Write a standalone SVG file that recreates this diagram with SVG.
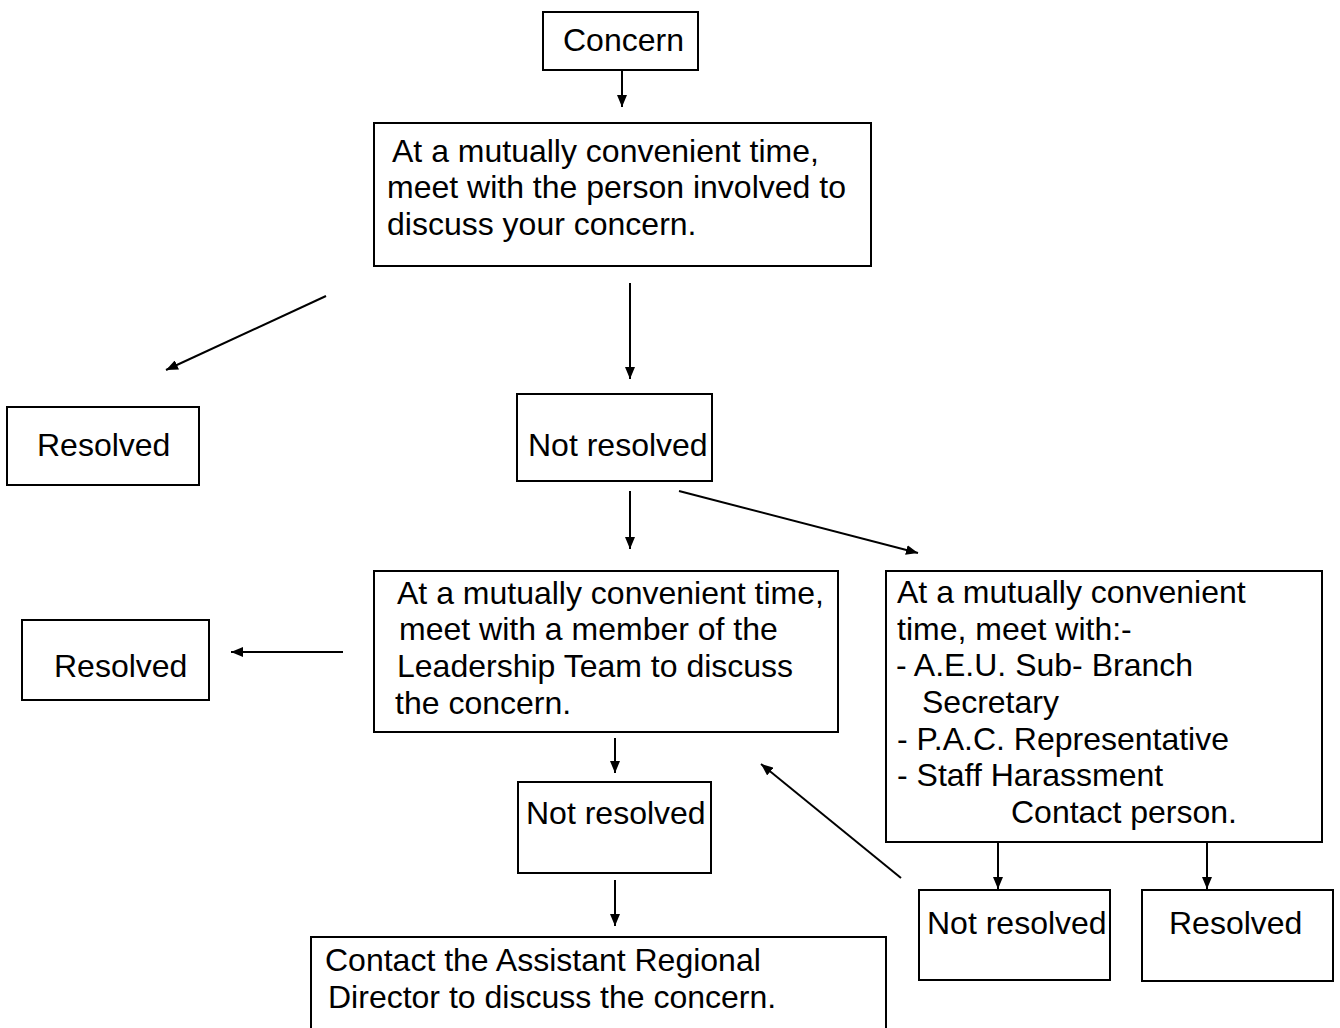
<svg xmlns="http://www.w3.org/2000/svg" width="1340" height="1028" viewBox="0 0 1340 1028">
<style>
  .box { fill: #ffffff; stroke: #000000; stroke-width: 2; }
  .t { font-family: "Liberation Sans", Arial, sans-serif; font-size: 32px; fill: #000000; }
  .c { stroke: #000000; stroke-width: 2; fill: none; marker-end: url(#ah); }
</style>
<defs>
  <marker id="ah" viewBox="0 0 12 10" refX="12" refY="5" markerWidth="12" markerHeight="10" markerUnits="userSpaceOnUse" orient="auto">
    <path d="M0,0 L12,5 L0,10 Z" fill="#000000"/>
  </marker>
</defs>
<rect width="1340" height="1028" fill="#ffffff"/>

<g id="concern">
  <rect class="box" x="543" y="12" width="155" height="58"/>
  <text class="t" x="563" y="51">Concern</text>
</g>
<g id="meet-person">
  <rect class="box" x="374" y="123" width="497" height="143"/>
  <text class="t" x="392" y="162">At a mutually convenient time,</text>
  <text class="t" x="387" y="198">meet with the person involved to</text>
  <text class="t" x="387" y="235">discuss your concern.</text>
</g>
<g id="resolved-1">
  <rect class="box" x="7" y="407" width="192" height="78"/>
  <text class="t" x="37" y="456">Resolved</text>
</g>
<g id="not-resolved-1">
  <rect class="box" x="517" y="394" width="195" height="87"/>
  <text class="t" x="528" y="456">Not resolved</text>
</g>
<g id="leadership">
  <rect class="box" x="374" y="571" width="464" height="161"/>
  <text class="t" x="397" y="604">At a mutually convenient time,</text>
  <text class="t" x="399" y="640">meet with a member of the</text>
  <text class="t" x="397" y="677">Leadership Team to discuss</text>
  <text class="t" x="395" y="714">the concern.</text>
</g>
<g id="resolved-2">
  <rect class="box" x="22" y="620" width="187" height="80"/>
  <text class="t" x="54" y="677">Resolved</text>
</g>
<g id="meet-with">
  <rect class="box" x="886" y="571" width="436" height="271"/>
  <text class="t" x="897" y="603">At a mutually convenient</text>
  <text class="t" x="897" y="640">time, meet with:-</text>
  <text class="t" x="896" y="676">- A.E.U. Sub- Branch</text>
  <text class="t" x="922" y="713">Secretary</text>
  <text class="t" x="897" y="750">- P.A.C. Representative</text>
  <text class="t" x="897" y="786">- Staff Harassment</text>
  <text class="t" x="1011" y="823">Contact person.</text>
</g>
<g id="not-resolved-2">
  <rect class="box" x="518" y="782" width="193" height="91"/>
  <text class="t" x="526" y="824">Not resolved</text>
</g>
<g id="not-resolved-3">
  <rect class="box" x="919" y="890" width="191" height="90"/>
  <text class="t" x="927" y="934">Not resolved</text>
</g>
<g id="resolved-3">
  <rect class="box" x="1142" y="890" width="191" height="91"/>
  <text class="t" x="1169" y="934">Resolved</text>
</g>
<g id="contact-ard">
  <rect class="box" x="311" y="937" width="575" height="110"/>
  <text class="t" x="325" y="971">Contact the Assistant Regional</text>
  <text class="t" x="328" y="1008">Director to discuss the concern.</text>
</g>

<g id="connectors">
  <line class="c" x1="622" y1="70" x2="622" y2="107"/>
  <line class="c" x1="326" y1="296" x2="166" y2="370"/>
  <line class="c" x1="630" y1="283" x2="630" y2="379"/>
  <line class="c" x1="630" y1="491" x2="630" y2="549"/>
  <line class="c" x1="679" y1="491" x2="918" y2="553"/>
  <line class="c" x1="343" y1="652" x2="231" y2="652"/>
  <line class="c" x1="615" y1="738" x2="615" y2="773"/>
  <line class="c" x1="615" y1="880" x2="615" y2="926"/>
  <line class="c" x1="998" y1="843" x2="998" y2="889"/>
  <line class="c" x1="1207" y1="843" x2="1207" y2="889"/>
  <line class="c" x1="901" y1="878" x2="761" y2="764"/>
</g>
</svg>
